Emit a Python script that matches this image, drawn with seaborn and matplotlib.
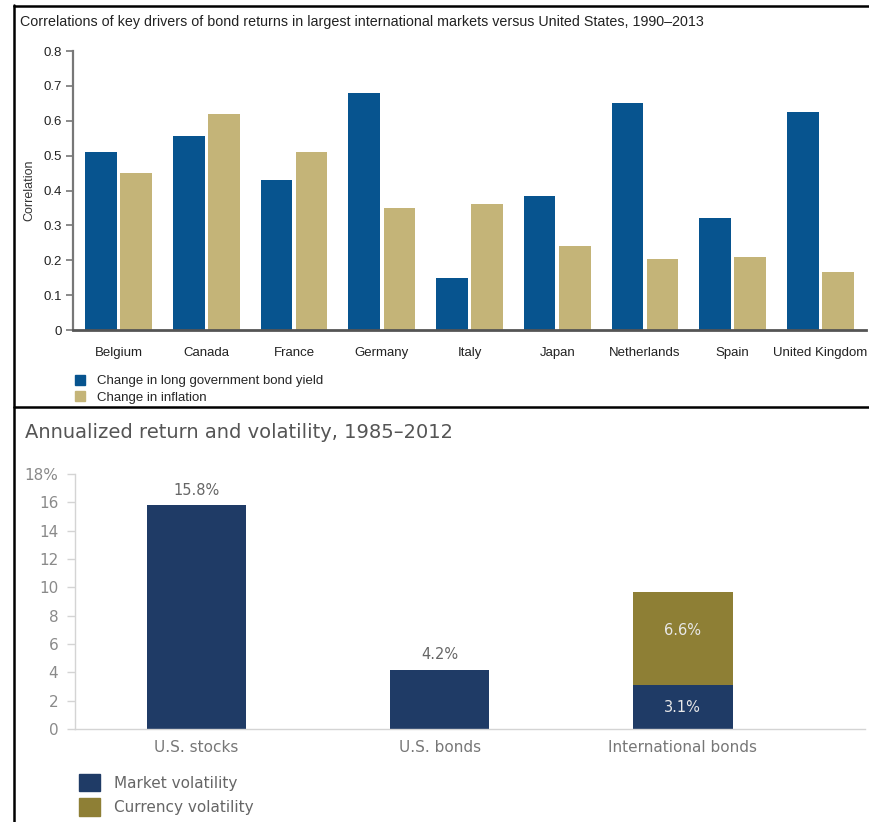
import numpy as np
import pandas as pd
import matplotlib
matplotlib.use('Agg')
import matplotlib.pyplot as plt
import seaborn as sns
from matplotlib.patches import Patch
from matplotlib.lines import Line2D

# ---- data: top panel (correlations) ----
countries = ['Belgium', 'Canada', 'France', 'Germany', 'Italy', 'Japan',
             'Netherlands', 'Spain', 'United Kingdom']
bond_yield = [0.51, 0.555, 0.43, 0.68, 0.15, 0.385, 0.65, 0.32, 0.625]
inflation = [0.45, 0.62, 0.51, 0.35, 0.36, 0.24, 0.205, 0.21, 0.165]
series_top = ['Change in long government bond yield', 'Change in inflation']

# ---- data: bottom panel (volatility) ----
assets = ['U.S. stocks', 'U.S. bonds', 'International bonds']
market_vol = [15.8, 4.2, 3.1]
currency_vol = [0.0, 0.0, 6.6]
series_bottom = ['Market volatility', 'Currency volatility']

W, H = 870, 822
sns.set_theme(style='white')
plt.rcParams['font.family'] = ['Liberation Sans', 'DejaVu Sans']

fig = plt.figure(figsize=(W / 100, H / 100), dpi=100)


def box(x0, y0, x1, y1):
    # pixel box -> figure fractions
    return [x0 / W, 1 - y1 / H, (x1 - x0) / W, (y1 - y0) / H]


def fx(x):
    return x / W


def fy(y):
    return 1 - y / H


# =====================================
# top chart
# =====================================
blue = '#07548f'
tan = '#c4b478'
df_top = pd.DataFrame({
    'country': countries * 2,
    'value': bond_yield + inflation,
    'series': [series_top[0]] * len(countries) + [series_top[1]] * len(countries),
})

ax1 = fig.add_axes(box(73, 51, 866, 330))
sns.barplot(data=df_top, x='country', y='value', hue='series',
            palette=[blue, tan], saturation=1, width=0.8, gap=0.1, linewidth=0,
            legend=False, ax=ax1)
ax1.set_ylim(0, 0.8)
ax1.set_xlim(-0.52, 8.52)
ax1.set_yticks(np.arange(0, 0.81, 0.1))
ax1.set_yticklabels(['0'] + [f'{v:.1f}' for v in np.arange(0.1, 0.81, 0.1)])
ax1.set_xlabel('')
ax1.set_ylabel('Correlation', fontsize=9, color='#333333', labelpad=6)
for s in ['top', 'right']:
    ax1.spines[s].set_visible(False)
ax1.spines['left'].set_color('#777777')
ax1.spines['left'].set_linewidth(1.6)
ax1.spines['bottom'].set_color('#555555')
ax1.spines['bottom'].set_linewidth(2)
ax1.tick_params(axis='y', left=True, length=5, width=1.2, color='#777777',
                labelsize=9.5, labelcolor='#222222', pad=3)
ax1.tick_params(axis='x', bottom=False, labelsize=9.5, labelcolor='#222222', pad=6)

fig.text(fx(20), fy(22), 'Correlations of key drivers of bond returns in largest '
         'international markets versus United States, 1990\u20132013',
         fontsize=10.3, color='#222222', va='center', ha='left')

fig.legend(handles=[Patch(color=blue, label=series_top[0]),
                    Patch(color=tan, label=series_top[1])],
           loc='upper left', bbox_to_anchor=(fx(68), fy(368)),
           frameon=False, fontsize=9.5, handlelength=0.8, handleheight=0.8,
           handletextpad=0.9, labelspacing=0.3, borderpad=0)

# =====================================
# bottom chart
# =====================================
navy = '#1f3b66'
olive = '#8e7f35'
gray = '#8a8a8a'
totals = [m + c for m, c in zip(market_vol, currency_vol)]
df_bot = pd.DataFrame({'asset': assets, 'market': market_vol, 'total': totals})

ax2 = fig.add_axes(box(75, 474, 865, 729))
sns.barplot(data=df_bot, x='asset', y='total', color=olive, width=0.41,
            linewidth=0, saturation=1, ax=ax2)
sns.barplot(data=df_bot, x='asset', y='market', color=navy, width=0.41,
            linewidth=0, saturation=1, ax=ax2)
ax2.set_ylim(0, 18)
ax2.set_xlim(-0.5, 2.75)
ax2.set_yticks(range(0, 19, 2))
ax2.set_yticklabels([str(v) for v in range(0, 17, 2)] + ['18%'])
ax2.set_xlabel('')
ax2.set_ylabel('')
for s in ['top', 'right']:
    ax2.spines[s].set_visible(False)
for s in ['left', 'bottom']:
    ax2.spines[s].set_color('#d4d4d4')
    ax2.spines[s].set_linewidth(1)
ax2.tick_params(axis='y', left=True, length=6, width=1, color='#d4d4d4',
                labelsize=11, labelcolor=gray, pad=6)
ax2.tick_params(axis='x', bottom=False, labelsize=11, labelcolor='#777777', pad=2)
for lab in ax2.get_yticklabels() + ax2.get_xticklabels():
    lab.set_family('DejaVu Sans')

# value labels
for i, (m, c) in enumerate(zip(market_vol, currency_vol)):
    if c > 0:
        ax2.text(i, m / 2, f'{m:.1f}%', ha='center', va='center', color='#e8e8e8',
                 fontsize=10.5, family='DejaVu Sans')
        ax2.text(i, m + c * 0.58, f'{c:.1f}%', ha='center', va='center',
                 color='#e8e8e8', fontsize=10.5, family='DejaVu Sans')
    else:
        ax2.text(i, m + 0.5, f'{m:.1f}%', ha='center', va='bottom', color='#666666',
                 fontsize=10.5, family='DejaVu Sans')

fig.text(fx(25), fy(432), 'Annualized return and volatility, 1985\u20132012',
         fontsize=14, color='#555555', va='center', ha='left', family='DejaVu Sans')

leg = fig.legend(handles=[Patch(color=navy, label=series_bottom[0]),
                          Patch(color=olive, label=series_bottom[1])],
                 loc='upper left', bbox_to_anchor=(fx(71), fy(766)),
                 frameon=False, handlelength=1.4, handleheight=1.4,
                 handletextpad=0.9, labelspacing=0.45, borderpad=0,
                 prop={'family': 'DejaVu Sans', 'size': 11})
for t in leg.get_texts():
    t.set_color('#666666')

# =====================================
# panel borders
# =====================================
fig.add_artist(Line2D([fx(14), 1], [fy(6), fy(6)], color='black', lw=1.8))
fig.add_artist(Line2D([fx(14), 1], [fy(407), fy(407)], color='black', lw=1.8))
fig.add_artist(Line2D([fx(14), fx(14)], [fy(5), 0], color='black', lw=1.8))

fig.savefig('out.png', dpi=100)
